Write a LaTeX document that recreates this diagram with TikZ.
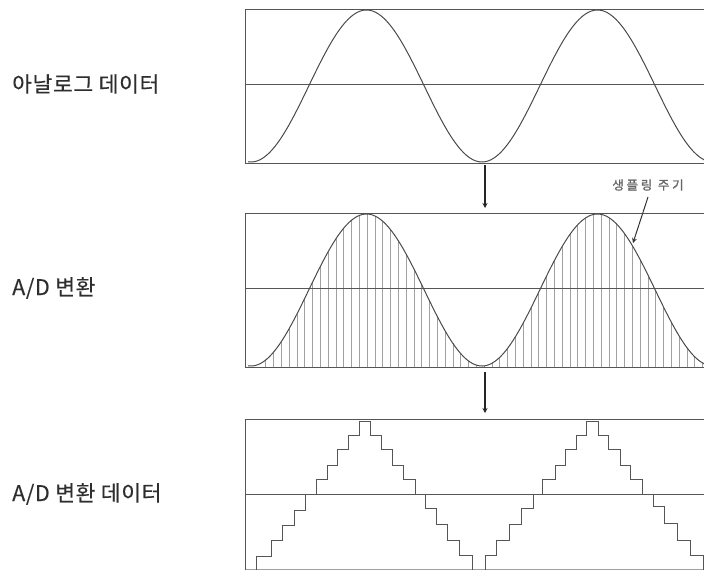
\documentclass[tikz,border=0pt]{standalone}
\usepackage{fontspec}
\setmainfont{Noto Sans CJK KR}
\usetikzlibrary{arrows.meta}
\definecolor{ink}{HTML}{2E2E2E}
\definecolor{frame}{HTML}{555555}
\definecolor{wave}{HTML}{4A4A4A}
\definecolor{samp}{HTML}{A0A0A0}
\tikzset{
  panel/.style={draw=frame, line width=0.9pt},
  faintedge/.style={draw=frame!55, line width=0.8pt},
  midl/.style={draw=frame, line width=0.8pt},
  wavecurve/.style={draw=wave, line width=1pt},
  sampline/.style={draw=samp, line width=0.55pt},
  stairs/.style={draw=frame, line width=1pt},
  flowarrow/.style={draw=black!85, line width=1.1pt, -{Stealth[length=5pt,width=5pt]}},
  notearrow/.style={draw=black!80, line width=1pt, -{Stealth[length=5pt,width=5pt]}},
  sidelabel/.style={anchor=west, text=ink, font=\fontsize{21.5}{25}\selectfont\addfontfeatures{LetterSpace=3,FakeBold=0.25}, inner sep=0pt},
  notelabel/.style={text=black!60, font=\fontsize{12.5}{15}\selectfont\addfontfeatures{LetterSpace=22,FakeBold=1.2}, inner sep=0pt}
}
\begin{document}
\begin{tikzpicture}[x=1pt, y=-1pt]
\useasboundingbox (0,0) rectangle (704,570);
\clip (0,0) rectangle (704,570);
\fill[white] (0,0) rectangle (704,570);

% labels
\node[sidelabel] (lab1) at (12,84) {아날로그 데이터};
\node[sidelabel] (lab2) at (12,288) {A/D 변환};
\node[sidelabel] (lab3) at (12,494) {A/D 변환 데이터};

% ---------- top panel ----------
\draw[panel] (712,9) -- (245,9) -- (245,163) -- (712,163);
\draw[midl] (245,84) -- (712,84);
\draw[wavecurve] plot[domain=248:706, samples=220] (\x, {86-76*cos((\x-366.5)*1.5584416)});

% ---------- middle panel ----------
\foreach \i in {0,...,56}{
  \pgfmathsetmacro\xx{265.7+7.8*\i}
  \pgfmathsetmacro\yy{290-76*cos((\xx-366.5)*1.5584416)}
  \draw[sampline] (\xx,367) -- (\xx,\yy);
}
\draw[panel] (712,213) -- (245,213) -- (245,367) -- (712,367);
\draw[midl] (245,288) -- (712,288);
\draw[wavecurve] plot[domain=248:706, samples=220] (\x, {290-76*cos((\x-366.5)*1.5584416)});

% ---------- bottom panel ----------
\draw[faintedge] (245,569) -- (712,569);
\draw[panel] (712,419) -- (245,419) -- (245,575);
\draw[midl] (245,494) -- (712,494);
\draw[stairs] (256.7,575) -- (256.7,556) -- (271.7,556) -- (271.7,540.5) -- (282.7,540.5) -- (282.7,525)
  -- (294.3,525) -- (294.3,510) -- (305,510) -- (305,494) -- (316,494)
  -- (316,479.5) -- (327.3,479.5) -- (327.3,465) -- (337.7,465) -- (337.7,449.5) -- (348.3,449.5)
  -- (348.3,435) -- (359.3,435) -- (359.3,421.5) -- (370,421.5) -- (370,435) -- (381.7,435)
  -- (381.7,449.5) -- (392.7,449.5) -- (392.7,465) -- (403.3,465) -- (403.3,479.5) -- (415,479.5)
  -- (415,494) -- (425,494) -- (425,508.3) -- (436,508.3) -- (436,524) -- (447.3,524) -- (447.3,540)
  -- (459.3,540) -- (459.3,555) -- (472.7,555) -- (472.7,575) -- (485,575) -- (485,555)
  -- (496.7,555) -- (496.7,540) -- (509.3,540) -- (509.3,524) -- (521.7,524) -- (521.7,508.3)
  -- (533.3,508.3) -- (533.3,494) -- (542.7,494) -- (542.7,479.5) -- (555,479.5) -- (555,465)
  -- (565,465) -- (565,449.5) -- (576,449.5) -- (576,435) -- (586.7,435) -- (586.7,421.5)
  -- (598.3,421.5) -- (598.3,435) -- (608.3,435) -- (608.3,449.5) -- (620,449.5) -- (620,465)
  -- (630.7,465) -- (630.7,479.5) -- (642.3,479.5) -- (642.3,494) -- (653.3,494) -- (653.3,506)
  -- (664.7,506) -- (664.7,523) -- (677,523) -- (677,540) -- (690,540) -- (690,555) -- (703,555)
  -- (703,575);

% ---------- arrows ----------
\coordinate (a1s) at (485,165);
\coordinate (a1e) at (485,208);
\coordinate (a2s) at (485,372);
\coordinate (a2e) at (485,413);
\draw[flowarrow] (a1s) -- (a1e);
\draw[flowarrow] (a2s) -- (a2e);

% ---------- sampling note ----------
\node[notelabel] (note) at (648,185) {생플링 주기};
\coordinate (notestart) at (648,197);
\coordinate (notetip) at (633,243);
\draw[notearrow] (notestart) -- (notetip);
\end{tikzpicture}
\end{document}
